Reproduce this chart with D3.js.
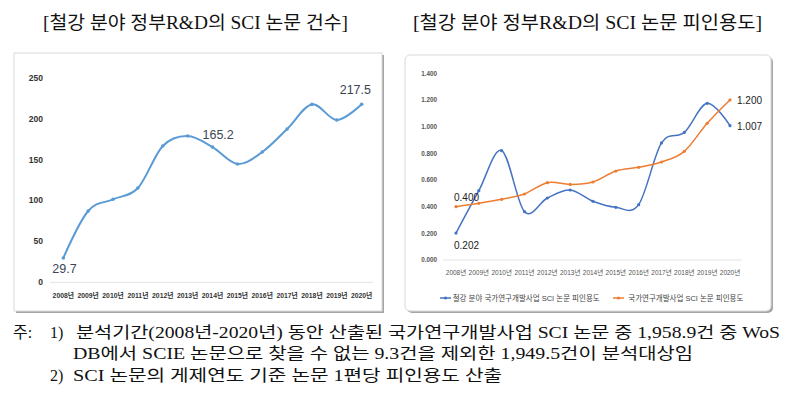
<!DOCTYPE html>
<html><head><meta charset="utf-8">
<script src="https://cdn.jsdelivr.net/npm/d3@7"></script>
<style>html,body{margin:0;padding:0;background:#fff;}</style>
</head><body>
<script>
const years = ["2008년","2009년","2010년","2011년","2012년","2013년","2014년","2015년","2016년","2017년","2018년","2019년","2020년"];
const paperCounts = [29.7, 87.1, 101.4, 115.2, 166.5, 178.7, 165.2, 144.5, 159.2, 187.3, 217.4, 198.3, 217.5];
const steelCitations = [0.202, 0.52, 0.82, 0.362, 0.465, 0.525, 0.44, 0.395, 0.415, 0.878, 0.957, 1.175, 1.007];
const nationalCitations = [0.400, 0.425, 0.455, 0.495, 0.58, 0.567, 0.585, 0.667, 0.695, 0.735, 0.815, 1.025, 1.200];
const leftTicks = [0, 50, 100, 150, 200, 250];
const rightTicks = [0, 0.2, 0.4, 0.6, 0.8, 1.0, 1.2, 1.4];
const titles = ["[철강 분야 정부R&D의 SCI 논문 건수]", "[철강 분야 정부R&D의 SCI 논문 피인용도]"];
const legendNames = ["철강 분야 국가연구개발사업 SCI 논문 피인용도", "국가연구개발사업 SCI 논문 피인용도"];
const notes = [
  "분석기간(2008년-2020년) 동안 산출된 국가연구개발사업 SCI 논문 중 1,958.9건 중 WoS",
  "DB에서 SCIE 논문으로 찾을 수 없는 9.3건을 제외한 1,949.5건이 분석대상임",
  "SCI 논문의 게제연도 기준 논문 1편당 피인용도 산출"
];

const W = 796, H = 402;
const svg = d3.select("body").append("svg").attr("width", W).attr("height", H)
  .style("display","block").style("background","#fff");
const serif = "'Liberation Serif','Times New Roman','Noto Sans CJK KR',serif";
const sans = "'Liberation Sans',Arial,'Noto Sans CJK KR',sans-serif";

// titles
svg.append("text").attr("x", 43).attr("y", 29).attr("font-family", serif).attr("font-size", 18)
  .attr("fill", "#111").attr("textLength", 305).attr("lengthAdjust", "spacingAndGlyphs").text(titles[0]);
svg.append("text").attr("x", 413).attr("y", 29).attr("font-family", serif).attr("font-size", 18)
  .attr("fill", "#111").attr("textLength", 349).attr("lengthAdjust", "spacingAndGlyphs").text(titles[1]);

// panels with shadow
function panel(x, y, w, h, rx) {
  svg.append("rect").attr("x", x + 2).attr("y", y + 2).attr("width", w).attr("height", h).attr("rx", rx)
    .attr("fill", "#a6a6a6");
  svg.append("rect").attr("x", x).attr("y", y).attr("width", w).attr("height", h).attr("rx", rx)
    .attr("fill", "#fff").attr("stroke", "#d9d9d9").attr("stroke-width", 1);
}
panel(14, 53, 368, 258, 0);
panel(405, 55, 366, 256, 5);

// LEFT chart
const xL = d3.scalePoint().domain(years).range([63.3, 361.7]);
const yL = d3.scaleLinear().domain([0, 250]).range([282.3, 77.7]);
const gL = svg.append("g");
gL.append("line").attr("x1", 50).attr("x2", 373).attr("y1", yL(0)).attr("y2", yL(0))
  .attr("stroke", "#e3e3e3").attr("stroke-width", 1);
gL.selectAll(".yt").data(leftTicks).join("text").attr("x", 43).attr("y", d => yL(d) + 3)
  .attr("text-anchor", "end").attr("font-family", sans).attr("font-size", 8.5).attr("font-weight", "bold")
  .attr("fill", "#333").text(d => d);
gL.selectAll(".xt").data(years).join("text").attr("x", d => xL(d)).attr("y", 298)
  .attr("text-anchor", "middle").attr("font-family", sans).attr("font-size", 6.8).attr("font-weight", "bold")
  .attr("fill", "#333").text(d => d);
const lineL = d3.line().x((d, i) => xL(years[i])).y(d => yL(d)).curve(d3.curveCardinal.tension(0));
gL.append("path").datum(paperCounts).attr("d", lineL).attr("fill", "none")
  .attr("stroke", "#5b9bd5").attr("stroke-width", 2);
gL.selectAll(".pt").data(paperCounts).join("circle").attr("cx", (d, i) => xL(years[i])).attr("cy", d => yL(d))
  .attr("r", 1.8).attr("fill", "#5b9bd5");
const labL = [[0, -11, 15], [6, -10, -8], [12, -22, -10]];
labL.forEach(([i, dx, dy]) => {
  gL.append("text").attr("x", xL(years[i]) + dx).attr("y", yL(paperCounts[i]) + dy)
    .attr("font-family", sans).attr("font-size", 12.5).attr("fill", "#3a4556")
    .text(paperCounts[i].toFixed(1));
});

// RIGHT chart
const xR = d3.scalePoint().domain(years).range([456, 730]);
const yR = d3.scaleLinear().domain([0, 1.4]).range([260, 73.3]);
const gR = svg.append("g");
gR.append("line").attr("x1", 443).attr("x2", 742).attr("y1", yR(0)).attr("y2", yR(0))
  .attr("stroke", "#e3e3e3").attr("stroke-width", 1);
gR.selectAll(".yt").data(rightTicks).join("text").attr("x", 437).attr("y", d => yR(d) + 2.3)
  .attr("text-anchor", "end").attr("font-family", sans).attr("font-size", 6.3).attr("font-weight", "bold")
  .attr("fill", "#555").text(d => d3.format(".3f")(d));
gR.selectAll(".xt").data(years).join("text").attr("x", d => xR(d)).attr("y", 274.5)
  .attr("text-anchor", "middle").attr("font-family", sans).attr("font-size", 6.5)
  .attr("fill", "#555").text(d => d);
const lineR = d3.line().x((d, i) => xR(years[i])).y(d => yR(d)).curve(d3.curveCardinal.tension(0));
const series = [[steelCitations, "#4472c4"], [nationalCitations, "#ed7d31"]];
series.forEach(([vals, col]) => {
  gR.append("path").datum(vals).attr("d", lineR).attr("fill", "none").attr("stroke", col).attr("stroke-width", 1.5);
  gR.selectAll(null).data(vals).join("circle").attr("cx", (d, i) => xR(years[i])).attr("cy", d => yR(d))
    .attr("r", 1.6).attr("fill", col);
});
const labR = [
  [steelCitations, 0, -2, 244],
  [nationalCitations, 0, -2, 200],
  [steelCitations, 12, 7, null],
  [nationalCitations, 12, 7, null]
];
// labels: first-year ones placed under/over the point, last-year ones to the right
gR.append("text").attr("x", xR(years[0]) - 2).attr("y", yR(steelCitations[0]) + 16)
  .attr("font-family", sans).attr("font-size", 10).attr("fill", "#222").text(steelCitations[0].toFixed(3));
gR.append("text").attr("x", xR(years[0]) - 2).attr("y", yR(nationalCitations[0]) - 6)
  .attr("font-family", sans).attr("font-size", 10).attr("fill", "#222").text(nationalCitations[0].toFixed(3));
gR.append("text").attr("x", xR(years[12]) + 7).attr("y", yR(steelCitations[12]) + 4)
  .attr("font-family", sans).attr("font-size", 10).attr("fill", "#222").text(steelCitations[12].toFixed(3));
gR.append("text").attr("x", xR(years[12]) + 7).attr("y", yR(nationalCitations[12]) + 4)
  .attr("font-family", sans).attr("font-size", 10).attr("fill", "#222").text(nationalCitations[12].toFixed(3));

// legend
const legX = [[440, 452.7, 147], [613, 628.3, 115]];
legendNames.forEach((name, i) => {
  const [lx, tx, tl] = legX[i];
  const col = series[i][1];
  gR.append("line").attr("x1", lx).attr("x2", lx + 11).attr("y1", 298).attr("y2", 298)
    .attr("stroke", col).attr("stroke-width", 1.5);
  gR.append("circle").attr("cx", lx + 5.5).attr("cy", 298).attr("r", 1.6).attr("fill", col);
  gR.append("text").attr("x", tx).attr("y", 301).attr("font-family", sans).attr("font-size", 7.5)
    .attr("fill", "#444").attr("textLength", tl).attr("lengthAdjust", "spacingAndGlyphs").text(name);
});

// footnotes
const fn = svg.append("g").attr("font-family", serif).attr("font-size", 16).attr("fill", "#111");
fn.append("text").attr("x", 13).attr("y", 337.5).text("주:");
fn.append("text").attr("x", 50).attr("y", 337.5).text("1)");
fn.append("text").attr("x", 76).attr("y", 337.5).attr("textLength", 704).attr("lengthAdjust", "spacingAndGlyphs").text(notes[0]);
fn.append("text").attr("x", 73).attr("y", 359).attr("textLength", 620).attr("lengthAdjust", "spacingAndGlyphs").text(notes[1]);
fn.append("text").attr("x", 50).attr("y", 381).text("2)");
fn.append("text").attr("x", 73).attr("y", 381).attr("textLength", 429).attr("lengthAdjust", "spacingAndGlyphs").text(notes[2]);
</script>
</body></html>
